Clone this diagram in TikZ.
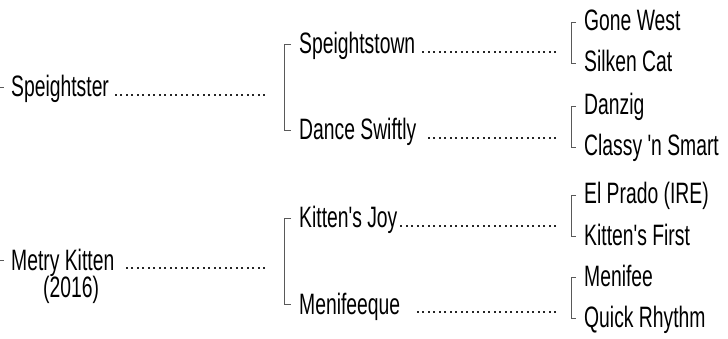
\documentclass[tikz,border=0pt]{standalone}
\usepackage{fontspec}
\setmainfont[FakeStretch=0.655,Ligatures=TeXOff]{Liberation Sans}
\begin{document}
\begin{tikzpicture}[x=1pt,y=-1pt,
  lbl/.style={anchor=base west,inner sep=0pt,font=\fontsize{29.5}{31}\selectfont},
  brk/.style={draw=black!65,line width=0.9pt},
  leader/.style={draw=black!85,line width=2pt,dash pattern=on 2pt off 3.5pt}]
\useasboundingbox (0,0) rectangle (728,339);
% generation 1
\node[lbl] (spr) at (11,97) {Speightster};
\node[lbl] (mkt) at (11,270) {Metry Kitten};
\node[lbl] (yr) at (43,297) {(2016)};
% generation 2
\node[lbl] (stw) at (299,54) {Speightstown};
\node[lbl] (dsw) at (299,140) {Dance Swiftly};
\node[lbl] (kjy) at (299,228) {Kitten's Joy};
\node[lbl] (mnq) at (299,314) {Menifeeque};
% generation 3
\node[lbl] (gwe) at (584,31) {Gone West};
\node[lbl] (skc) at (584,72) {Silken Cat};
\node[lbl] (dnz) at (584,115) {Danzig};
\node[lbl] (cns) at (584,156) {Classy 'n Smart};
\node[lbl] (epr) at (584,204) {El Prado (IRE)};
\node[lbl] (kfi) at (584,245) {Kitten's First};
\node[lbl] (mnf) at (584,286) {Menifee};
\node[lbl] (qrh) at (584,327) {Quick Rhythm};
% leader ends
\coordinate (e1) at (265,95);
\coordinate (e2) at (265,268);
\coordinate (e3) at (556,52);
\coordinate (e4) at (556,138);
\coordinate (e5) at (556,226);
\coordinate (e6) at (556,312);
\draw[leader] (e1) -- ([xshift=5pt,yshift=2pt]spr.base east);
\draw[leader] (e2) -- ([xshift=9pt,yshift=2pt]mkt.base east);
\draw[leader] (e3) -- ([xshift=5pt,yshift=2pt]stw.base east);
\draw[leader] (e4) -- ([xshift=9pt,yshift=2pt]dsw.base east);
\draw[leader] (e5) -- ([xshift=1pt,yshift=2pt]kjy.base east);
\draw[leader] (e6) -- ([xshift=14pt,yshift=2pt]mnq.base east);
% left ticks
\coordinate (t1) at (0,87);
\coordinate (t2) at (0,260);
\draw[brk] (t1) -- ([xshift=-7pt,yshift=10pt]spr.base west);
\draw[brk] (t2) -- ([xshift=-7pt,yshift=10pt]mkt.base west);
% gen 2 brackets
\draw[brk] ([xshift=-8pt,yshift=10pt]stw.base west) -- ++(-7,0) |- ([xshift=-8pt,yshift=10pt]dsw.base west);
\draw[brk] ([xshift=-8pt,yshift=10pt]kjy.base west) -- ++(-7,0) |- ([xshift=-8pt,yshift=10pt]mnq.base west);
% gen 3 brackets
\draw[brk] ([xshift=-8pt,yshift=9pt]gwe.base west) -- ++(-5,0) |- ([xshift=-8pt,yshift=9pt]skc.base west);
\draw[brk] ([xshift=-8pt,yshift=9pt]dnz.base west) -- ++(-5,0) |- ([xshift=-8pt,yshift=9pt]cns.base west);
\draw[brk] ([xshift=-8pt,yshift=9pt]epr.base west) -- ++(-5,0) |- ([xshift=-8pt,yshift=9pt]kfi.base west);
\draw[brk] ([xshift=-8pt,yshift=9pt]mnf.base west) -- ++(-5,0) |- ([xshift=-8pt,yshift=9pt]qrh.base west);
\end{tikzpicture}
\end{document}
